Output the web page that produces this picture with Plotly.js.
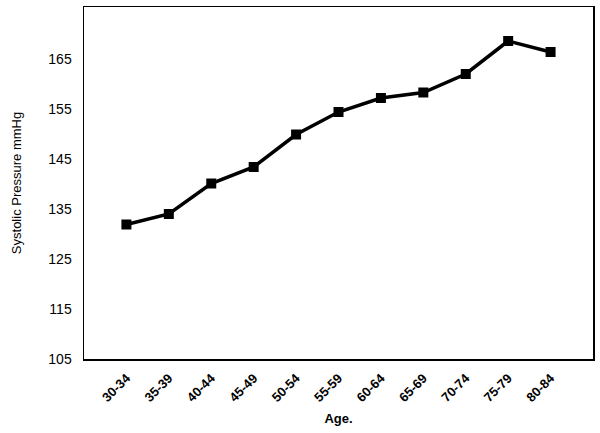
<!DOCTYPE html>
<html>
<head>
<meta charset="utf-8">
<script src="https://cdn.plot.ly/plotly-3.0.1.min.js"></script>
<style>html,body{margin:0;padding:0;background:#fff;}#chart{width:600px;height:433px;}</style>
</head>
<body>
<div id="chart"></div>
<script>
const ageGroups = ["30-34","35-39","40-44","45-49","50-54","55-59","60-64","65-69","70-74","75-79","80-84"];
const systolic = [131.9, 134.0, 140.1, 143.4, 149.9, 154.4, 157.2, 158.3, 162.0, 168.6, 166.4];
const yTicks = [105, 115, 125, 135, 145, 155, 165];

const trace = {
  x: ageGroups,
  y: systolic,
  type: 'scatter',
  mode: 'lines+markers',
  line: {color: '#000', width: 3.5},
  marker: {symbol: 'square', size: 10, color: '#000'},
  showlegend: false
};

const layout = {
  width: 600, height: 433,
  margin: {l: 83.5, r: 6.5, t: 7, b: 73.5},
  paper_bgcolor: '#fff', plot_bgcolor: '#fff',
  font: {family: 'Liberation Sans, Arial, sans-serif', color: '#000'},
  xaxis: {
    type: 'category',
    range: [-1, 11],
    showgrid: false, zeroline: false,
    showline: true, linecolor: '#000', linewidth: 1.5, mirror: true,
    ticks: 'outside', ticklen: 5, tickcolor: 'rgba(0,0,0,0)', tickangle: -45,
    tickfont: {size: 13, weight: 'bold'},
    title: {text: 'Age.', font: {size: 13, weight: 'bold'}, standoff: 10}
  },
  yaxis: {
    range: [105, 175.4],
    tickvals: yTicks,
    showgrid: false, zeroline: false,
    showline: true, linecolor: '#000', linewidth: 1.5, mirror: true,
    ticks: 'outside', ticklen: 8, tickcolor: 'rgba(0,0,0,0)',
    tickfont: {size: 14},
    title: {text: 'Systolic Pressure mmHg', font: {size: 13}, standoff: 24}
  }
};

Plotly.newPlot('chart', [trace], layout, {displayModeBar: false, staticPlot: true});
</script>
</body>
</html>
